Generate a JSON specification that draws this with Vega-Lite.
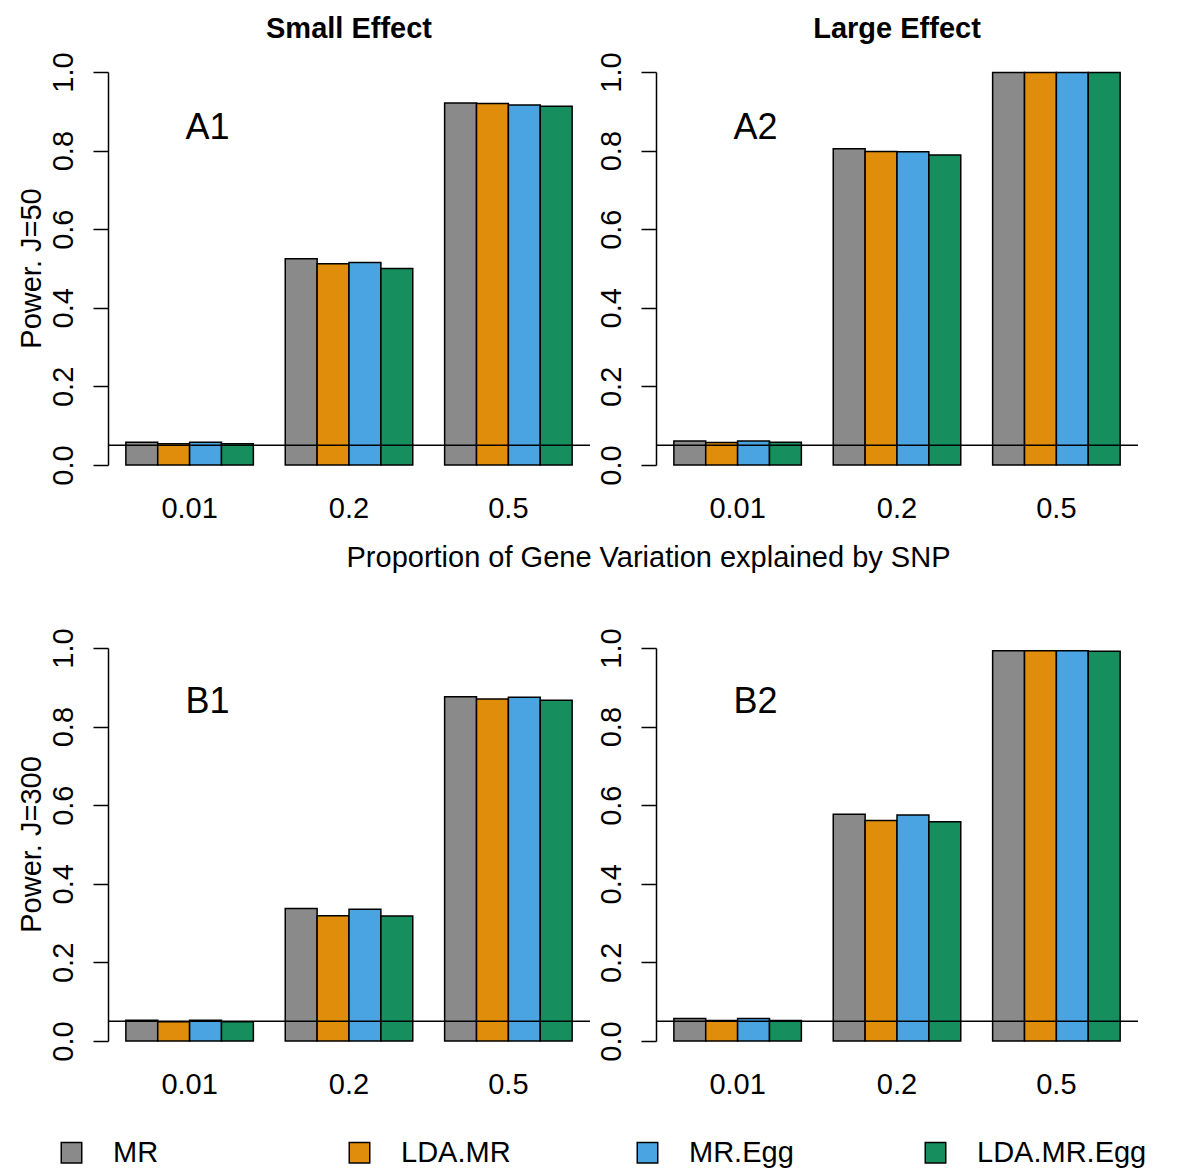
{
  "$schema": "https://vega.github.io/schema/vega-lite/v6.json",
  "autosize": {"type": "none"},
  "padding": {"left": 108, "top": 72, "right": 1074, "bottom": 1104},
  "background": "white",
  "config": {
    "font": "Liberation Sans",
    "view": {"stroke": null},
    "axis": {"labelColor": "black", "titleColor": "black", "domainColor": "black", "tickColor": "black", "domainWidth": 1.5, "tickWidth": 1.5, "grid": false, "labelFont": "Liberation Sans", "titleFont": "Liberation Sans"},
    "title": {"color": "black", "font": "Liberation Sans"},
    "legend": {"labelFont": "Liberation Sans"}
  },
  "datasets": {
    "bars": [
      {"panel": "A1", "prop": "0.01", "method": "MR", "power": 0.058},
      {"panel": "A1", "prop": "0.01", "method": "LDA.MR", "power": 0.054},
      {"panel": "A1", "prop": "0.01", "method": "MR.Egg", "power": 0.058},
      {"panel": "A1", "prop": "0.01", "method": "LDA.MR.Egg", "power": 0.054},
      {"panel": "A1", "prop": "0.2", "method": "MR", "power": 0.525},
      {"panel": "A1", "prop": "0.2", "method": "LDA.MR", "power": 0.512},
      {"panel": "A1", "prop": "0.2", "method": "MR.Egg", "power": 0.515},
      {"panel": "A1", "prop": "0.2", "method": "LDA.MR.Egg", "power": 0.5},
      {"panel": "A1", "prop": "0.5", "method": "MR", "power": 0.921},
      {"panel": "A1", "prop": "0.5", "method": "LDA.MR", "power": 0.92},
      {"panel": "A1", "prop": "0.5", "method": "MR.Egg", "power": 0.916},
      {"panel": "A1", "prop": "0.5", "method": "LDA.MR.Egg", "power": 0.913},
      {"panel": "A2", "prop": "0.01", "method": "MR", "power": 0.061},
      {"panel": "A2", "prop": "0.01", "method": "LDA.MR", "power": 0.057},
      {"panel": "A2", "prop": "0.01", "method": "MR.Egg", "power": 0.061},
      {"panel": "A2", "prop": "0.01", "method": "LDA.MR.Egg", "power": 0.058},
      {"panel": "A2", "prop": "0.2", "method": "MR", "power": 0.805},
      {"panel": "A2", "prop": "0.2", "method": "LDA.MR", "power": 0.798},
      {"panel": "A2", "prop": "0.2", "method": "MR.Egg", "power": 0.797},
      {"panel": "A2", "prop": "0.2", "method": "LDA.MR.Egg", "power": 0.789},
      {"panel": "A2", "prop": "0.5", "method": "MR", "power": 0.999},
      {"panel": "A2", "prop": "0.5", "method": "LDA.MR", "power": 0.999},
      {"panel": "A2", "prop": "0.5", "method": "MR.Egg", "power": 0.999},
      {"panel": "A2", "prop": "0.5", "method": "LDA.MR.Egg", "power": 0.999},
      {"panel": "B1", "prop": "0.01", "method": "MR", "power": 0.053},
      {"panel": "B1", "prop": "0.01", "method": "LDA.MR", "power": 0.049},
      {"panel": "B1", "prop": "0.01", "method": "MR.Egg", "power": 0.053},
      {"panel": "B1", "prop": "0.01", "method": "LDA.MR.Egg", "power": 0.049},
      {"panel": "B1", "prop": "0.2", "method": "MR", "power": 0.337},
      {"panel": "B1", "prop": "0.2", "method": "LDA.MR", "power": 0.319},
      {"panel": "B1", "prop": "0.2", "method": "MR.Egg", "power": 0.335},
      {"panel": "B1", "prop": "0.2", "method": "LDA.MR.Egg", "power": 0.318},
      {"panel": "B1", "prop": "0.5", "method": "MR", "power": 0.876},
      {"panel": "B1", "prop": "0.5", "method": "LDA.MR", "power": 0.87},
      {"panel": "B1", "prop": "0.5", "method": "MR.Egg", "power": 0.875},
      {"panel": "B1", "prop": "0.5", "method": "LDA.MR.Egg", "power": 0.867},
      {"panel": "B2", "prop": "0.01", "method": "MR", "power": 0.057},
      {"panel": "B2", "prop": "0.01", "method": "LDA.MR", "power": 0.052},
      {"panel": "B2", "prop": "0.01", "method": "MR.Egg", "power": 0.057},
      {"panel": "B2", "prop": "0.01", "method": "LDA.MR.Egg", "power": 0.052},
      {"panel": "B2", "prop": "0.2", "method": "MR", "power": 0.577},
      {"panel": "B2", "prop": "0.2", "method": "LDA.MR", "power": 0.561},
      {"panel": "B2", "prop": "0.2", "method": "MR.Egg", "power": 0.575},
      {"panel": "B2", "prop": "0.2", "method": "LDA.MR.Egg", "power": 0.558},
      {"panel": "B2", "prop": "0.5", "method": "MR", "power": 0.993},
      {"panel": "B2", "prop": "0.5", "method": "LDA.MR", "power": 0.993},
      {"panel": "B2", "prop": "0.5", "method": "MR.Egg", "power": 0.993},
      {"panel": "B2", "prop": "0.5", "method": "LDA.MR.Egg", "power": 0.992}
    ]
  },
  "spacing": 576,
  "bounds": "flush",
  "vconcat": [
    {
      "hconcat": [
        {
          "width": 482, "height": 393,
          "title": {"text": "Small Effect", "fontSize": 29, "fontWeight": "bold", "anchor": "middle", "frame": "group", "baseline": "alphabetic", "offset": 10, "dy": 25},
          "layer": [
            {
              "data": {"name": "bars"},
              "transform": [{"filter": "datum.panel === 'A1'"}],
              "mark": {"type": "bar", "stroke": "black", "strokeWidth": 1.5},
              "encoding": {
                "x": {"field": "prop", "type": "nominal", "sort": ["0.01", "0.2", "0.5"], "scale": {"domain": ["0.01", "0.2", "0.5"], "paddingInner": 0.2, "paddingOuter": 0.112},
                      "axis": {"labelAngle": 0, "labelFontSize": 29, "domain": false, "ticks": false, "tickSize": 0, "labelPadding": 29,
                               "title": "Proportion of Gene Variation explained by SNP", "titleFontSize": 29, "titleFontWeight": "normal", "titleX": 540, "titleY": 101, "titleAlign": "center", "titleBaseline": "alphabetic"}},
                "xOffset": {"field": "method", "type": "nominal", "sort": ["MR", "LDA.MR", "MR.Egg", "LDA.MR.Egg"], "scale": {"paddingInner": 0, "paddingOuter": 0}},
                "y": {"field": "power", "type": "quantitative", "scale": {"domain": [0, 1], "nice": false},
                      "axis": {"values": [0, 0.2, 0.4, 0.6, 0.8, 1], "format": ".1f", "labelAngle": 270, "labelAlign": "center", "labelBaseline": "bottom", "labelFontSize": 29, "labelPadding": 15, "tickSize": 15,
                               "title": "Power. J=50", "titleFontSize": 29, "titleFontWeight": "normal", "titleAngle": 270, "titleBaseline": "alphabetic", "titleAlign": "center", "titleX": -68, "titleY": 196}},
                "color": {"field": "method", "type": "nominal", "sort": ["MR", "LDA.MR", "MR.Egg", "LDA.MR.Egg"],
                          "scale": {"domain": ["MR", "LDA.MR", "MR.Egg", "LDA.MR.Egg"], "range": ["#8a8a8a", "#e08d0c", "#4aa4e2", "#178e5e"]},
                          "legend": {"title": null, "orient": "none", "legendX": -51, "legendY": 1066, "direction": "horizontal", "columns": 4, "gridAlign": "all", "columnPadding": 62, "labelOffset": 27, "labelLimit": 400, "labelFontSize": 29, "labelColor": "black", "symbolType": "square", "symbolSize": 420, "symbolStrokeColor": "black", "symbolStrokeWidth": 1.5, "padding": 0}}
              }
            },
            {"data": {"values": [{}]}, "mark": {"type": "rule", "color": "black", "strokeWidth": 1.5}, "encoding": {"y": {"datum": 0.05}}},
            {"data": {"values": [{}]}, "mark": {"type": "text", "fontSize": 36, "dx": 18, "baseline": "alphabetic", "align": "center", "color": "black"}, "encoding": {"x": {"datum": "0.01"}, "y": {"datum": 0.83}, "text": {"value": "A1"}}}
          ]
        },
        {
          "width": 482, "height": 393,
          "title": {"text": "Large Effect", "fontSize": 29, "fontWeight": "bold", "anchor": "middle", "frame": "group", "baseline": "alphabetic", "offset": 10, "dy": 25},
          "layer": [
            {
              "data": {"name": "bars"},
              "transform": [{"filter": "datum.panel === 'A2'"}],
              "mark": {"type": "bar", "stroke": "black", "strokeWidth": 1.5},
              "encoding": {
                "x": {"field": "prop", "type": "nominal", "sort": ["0.01", "0.2", "0.5"], "scale": {"domain": ["0.01", "0.2", "0.5"], "paddingInner": 0.2, "paddingOuter": 0.112},
                      "axis": {"labelAngle": 0, "labelFontSize": 29, "domain": false, "ticks": false, "tickSize": 0, "labelPadding": 29, "title": null}},
                "xOffset": {"field": "method", "type": "nominal", "sort": ["MR", "LDA.MR", "MR.Egg", "LDA.MR.Egg"], "scale": {"paddingInner": 0, "paddingOuter": 0}},
                "y": {"field": "power", "type": "quantitative", "scale": {"domain": [0, 1], "nice": false},
                      "axis": {"values": [0, 0.2, 0.4, 0.6, 0.8, 1], "format": ".1f", "labelAngle": 270, "labelAlign": "center", "labelBaseline": "bottom", "labelFontSize": 29, "labelPadding": 15, "tickSize": 15, "title": null}},
                "color": {"field": "method", "type": "nominal", "sort": ["MR", "LDA.MR", "MR.Egg", "LDA.MR.Egg"],
                          "scale": {"domain": ["MR", "LDA.MR", "MR.Egg", "LDA.MR.Egg"], "range": ["#8a8a8a", "#e08d0c", "#4aa4e2", "#178e5e"]},
                          "legend": {"title": null, "orient": "none", "legendX": -51, "legendY": 1066, "direction": "horizontal", "columns": 4, "gridAlign": "all", "columnPadding": 62, "labelOffset": 27, "labelLimit": 400, "labelFontSize": 29, "labelColor": "black", "symbolType": "square", "symbolSize": 420, "symbolStrokeColor": "black", "symbolStrokeWidth": 1.5, "padding": 0}}
              }
            },
            {"data": {"values": [{}]}, "mark": {"type": "rule", "color": "black", "strokeWidth": 1.5}, "encoding": {"y": {"datum": 0.05}}},
            {"data": {"values": [{}]}, "mark": {"type": "text", "fontSize": 36, "dx": 18, "baseline": "alphabetic", "align": "center", "color": "black"}, "encoding": {"x": {"datum": "0.01"}, "y": {"datum": 0.83}, "text": {"value": "A2"}}}
          ]
        }
      ],
      "spacing": 66,
      "bounds": "flush"
    },
    {
      "hconcat": [
        {
          "width": 482, "height": 393,
          "layer": [
            {
              "data": {"name": "bars"},
              "transform": [{"filter": "datum.panel === 'B1'"}],
              "mark": {"type": "bar", "stroke": "black", "strokeWidth": 1.5},
              "encoding": {
                "x": {"field": "prop", "type": "nominal", "sort": ["0.01", "0.2", "0.5"], "scale": {"domain": ["0.01", "0.2", "0.5"], "paddingInner": 0.2, "paddingOuter": 0.112},
                      "axis": {"labelAngle": 0, "labelFontSize": 29, "domain": false, "ticks": false, "tickSize": 0, "labelPadding": 29, "title": null}},
                "xOffset": {"field": "method", "type": "nominal", "sort": ["MR", "LDA.MR", "MR.Egg", "LDA.MR.Egg"], "scale": {"paddingInner": 0, "paddingOuter": 0}},
                "y": {"field": "power", "type": "quantitative", "scale": {"domain": [0, 1], "nice": false},
                      "axis": {"values": [0, 0.2, 0.4, 0.6, 0.8, 1], "format": ".1f", "labelAngle": 270, "labelAlign": "center", "labelBaseline": "bottom", "labelFontSize": 29, "labelPadding": 15, "tickSize": 15,
                               "title": "Power. J=300", "titleFontSize": 29, "titleFontWeight": "normal", "titleAngle": 270, "titleBaseline": "alphabetic", "titleAlign": "center", "titleX": -68, "titleY": 196}},
                "color": {"field": "method", "type": "nominal", "sort": ["MR", "LDA.MR", "MR.Egg", "LDA.MR.Egg"],
                          "scale": {"domain": ["MR", "LDA.MR", "MR.Egg", "LDA.MR.Egg"], "range": ["#8a8a8a", "#e08d0c", "#4aa4e2", "#178e5e"]},
                          "legend": {"title": null, "orient": "none", "legendX": -51, "legendY": 1066, "direction": "horizontal", "columns": 4, "gridAlign": "all", "columnPadding": 62, "labelOffset": 27, "labelLimit": 400, "labelFontSize": 29, "labelColor": "black", "symbolType": "square", "symbolSize": 420, "symbolStrokeColor": "black", "symbolStrokeWidth": 1.5, "padding": 0}}
              }
            },
            {"data": {"values": [{}]}, "mark": {"type": "rule", "color": "black", "strokeWidth": 1.5}, "encoding": {"y": {"datum": 0.05}}},
            {"data": {"values": [{}]}, "mark": {"type": "text", "fontSize": 36, "dx": 18, "baseline": "alphabetic", "align": "center", "color": "black"}, "encoding": {"x": {"datum": "0.01"}, "y": {"datum": 0.835}, "text": {"value": "B1"}}}
          ]
        },
        {
          "width": 482, "height": 393,
          "layer": [
            {
              "data": {"name": "bars"},
              "transform": [{"filter": "datum.panel === 'B2'"}],
              "mark": {"type": "bar", "stroke": "black", "strokeWidth": 1.5},
              "encoding": {
                "x": {"field": "prop", "type": "nominal", "sort": ["0.01", "0.2", "0.5"], "scale": {"domain": ["0.01", "0.2", "0.5"], "paddingInner": 0.2, "paddingOuter": 0.112},
                      "axis": {"labelAngle": 0, "labelFontSize": 29, "domain": false, "ticks": false, "tickSize": 0, "labelPadding": 29, "title": null}},
                "xOffset": {"field": "method", "type": "nominal", "sort": ["MR", "LDA.MR", "MR.Egg", "LDA.MR.Egg"], "scale": {"paddingInner": 0, "paddingOuter": 0}},
                "y": {"field": "power", "type": "quantitative", "scale": {"domain": [0, 1], "nice": false},
                      "axis": {"values": [0, 0.2, 0.4, 0.6, 0.8, 1], "format": ".1f", "labelAngle": 270, "labelAlign": "center", "labelBaseline": "bottom", "labelFontSize": 29, "labelPadding": 15, "tickSize": 15, "title": null}},
                "color": {"field": "method", "type": "nominal", "sort": ["MR", "LDA.MR", "MR.Egg", "LDA.MR.Egg"],
                          "scale": {"domain": ["MR", "LDA.MR", "MR.Egg", "LDA.MR.Egg"], "range": ["#8a8a8a", "#e08d0c", "#4aa4e2", "#178e5e"]},
                          "legend": {"title": null, "orient": "none", "legendX": -51, "legendY": 1066, "direction": "horizontal", "columns": 4, "gridAlign": "all", "columnPadding": 62, "labelOffset": 27, "labelLimit": 400, "labelFontSize": 29, "labelColor": "black", "symbolType": "square", "symbolSize": 420, "symbolStrokeColor": "black", "symbolStrokeWidth": 1.5, "padding": 0}}
              }
            },
            {"data": {"values": [{}]}, "mark": {"type": "rule", "color": "black", "strokeWidth": 1.5}, "encoding": {"y": {"datum": 0.05}}},
            {"data": {"values": [{}]}, "mark": {"type": "text", "fontSize": 36, "dx": 18, "baseline": "alphabetic", "align": "center", "color": "black"}, "encoding": {"x": {"datum": "0.01"}, "y": {"datum": 0.835}, "text": {"value": "B2"}}}
          ]
        }
      ],
      "spacing": 66,
      "bounds": "flush"
    }
  ]
}
